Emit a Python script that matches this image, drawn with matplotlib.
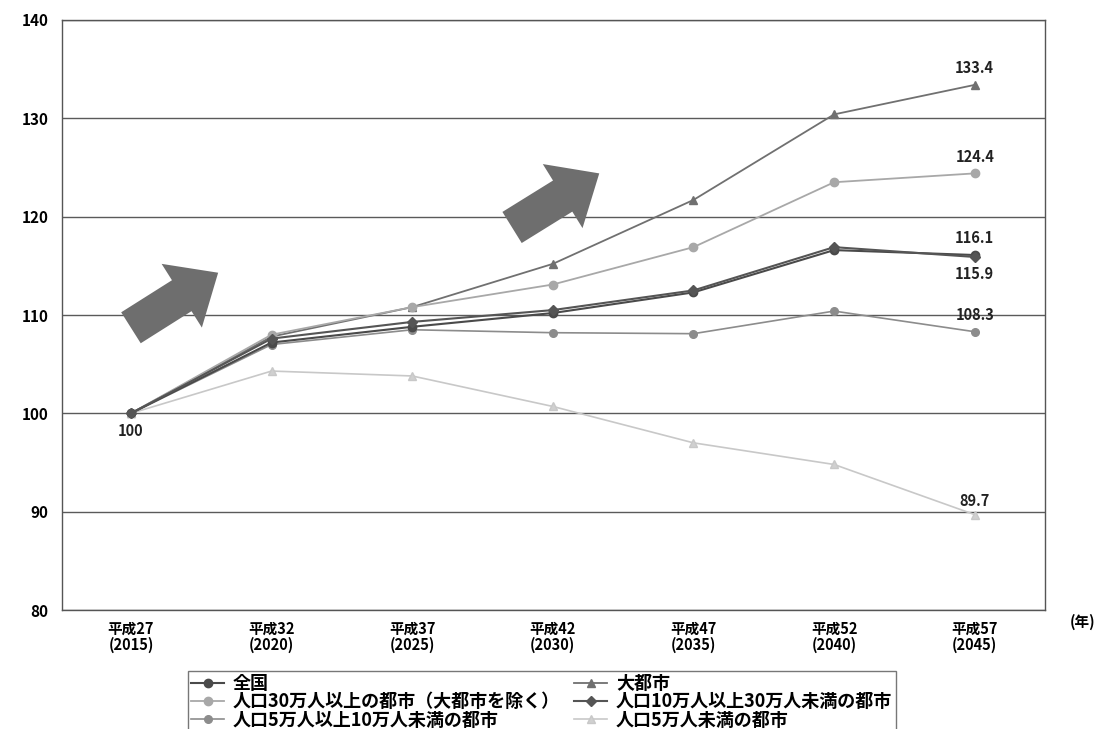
import matplotlib
matplotlib.use("Agg")
import matplotlib.pyplot as plt

plt.rcParams['font.family'] = ['Noto Sans CJK JP', 'DejaVu Sans']

# Index values (2015 = 100)
years = ["平成27\n(2015)", "平成32\n(2020)", "平成37\n(2025)", "平成42\n(2030)",
         "平成47\n(2035)", "平成52\n(2040)", "平成57\n(2045)"]
zenkoku = [100, 107.2, 108.8, 110.2, 112.3, 116.6, 116.1]
daitoshi = [100, 107.8, 110.8, 115.2, 121.7, 130.4, 133.4]
over30 = [100, 108.0, 110.8, 113.1, 116.9, 123.5, 124.4]
from10to30 = [100, 107.6, 109.3, 110.5, 112.5, 116.9, 115.9]
from5to10 = [100, 107.0, 108.5, 108.2, 108.1, 110.4, 108.3]
under5 = [100, 104.3, 103.8, 100.7, 97.0, 94.8, 89.7]

fig = plt.figure(figsize=(11.04, 7.29), dpi=100)
ax = fig.add_axes([0.0562, 0.1632, 0.8904, 0.8094])
x = list(range(len(years)))

h_zen, = ax.plot(x, zenkoku, color="#4a4a4a", lw=1.5, marker="o", ms=6, label="全国", zorder=4)
h_dai, = ax.plot(x, daitoshi, color="#707070", lw=1.3, marker="^", ms=6, label="大都市", zorder=3)
h_30, = ax.plot(x, over30, color="#a8a8a8", lw=1.3, marker="o", ms=6, label="人口30万人以上の都市（大都市を除く）", zorder=3)
h_1030, = ax.plot(x, from10to30, color="#555555", lw=1.5, marker="D", ms=5.5, label="人口10万人以上30万人未満の都市", zorder=4)
h_510, = ax.plot(x, from5to10, color="#8c8c8c", lw=1.2, marker="o", ms=5.5, label="人口5万人以上10万人未満の都市", zorder=3)
h_u5, = ax.plot(x, under5, color="#c8c8c8", lw=1.2, marker="^", ms=6, mfc="#d0d0d0", label="人口5万人未満の都市", zorder=3)

ax.set_xlim(-0.49, 6.5)
ax.set_ylim(80, 140)
ax.set_yticks(range(80, 141, 10))
ax.grid(axis="y", color="#5a5a5a", lw=1.0)
ax.set_axisbelow(True)
ax.set_xticks(x)
ax.set_xticklabels(years, fontsize=10.5, fontweight="bold", linespacing=0.95)
ax.tick_params(axis="x", length=0, pad=8)
ax.tick_params(axis="y", length=0, pad=10, labelsize=11)
for lbl in ax.get_yticklabels():
    lbl.set_fontweight("bold")
for sp in ax.spines.values():
    sp.set_color("#555555")
    sp.set_linewidth(1.0)

# Value labels
lab_kw = dict(ha="center", fontsize=10.5, fontweight="bold", color="#222222")
ax.text(0, zenkoku[0] - 1.0, "100", va="top", **lab_kw)
ax.text(6, daitoshi[6] + 0.9, f"{daitoshi[6]:.1f}", va="bottom", **lab_kw)
ax.text(6, over30[6] + 0.9, f"{over30[6]:.1f}", va="bottom", **lab_kw)
ax.text(6, zenkoku[6] + 0.9, f"{zenkoku[6]:.1f}", va="bottom", **lab_kw)
ax.text(6, from10to30[6] - 0.9, f"{from10to30[6]:.1f}", va="top", **lab_kw)
ax.text(6, from5to10[6] + 0.9, f"{from5to10[6]:.1f}", va="bottom", **lab_kw)
ax.text(6, under5[6] + 0.6, f"{under5[6]:.1f}", va="bottom", **lab_kw)

# Upward trend arrows (tail -> tip in data coordinates)
arrow_style = "simple,head_length=1.0,head_width=1.75,tail_width=0.85"
for (xt, yt, xh, yh) in [(0.0, 108.7, 0.62, 114.3), (2.71, 118.9, 3.33, 124.4)]:
    ax.annotate("", xy=(xh, yh), xytext=(xt, yt),
                arrowprops=dict(arrowstyle=arrow_style, mutation_scale=31,
                                color="#6e6e6e", shrinkA=0, shrinkB=0, lw=0),
                zorder=5)

fig.text(0.981, 0.147, "(年)", ha="center", va="center", fontsize=10.5, fontweight="bold")

handles = [h_zen, h_30, h_510, h_dai, h_1030, h_u5]
leg = fig.legend(handles=handles, labels=[h.get_label() for h in handles], ncol=2,
                 loc="upper left", bbox_to_anchor=(0.17, 0.08), frameon=True,
                 fancybox=False, edgecolor="#555555",
                 prop={"weight": "bold", "size": 13}, handlelength=1.8,
                 columnspacing=0.8, labelspacing=-0.05, borderpad=0.2,
                 handletextpad=0.5, borderaxespad=0)

fig.savefig("out.png", dpi=100)
